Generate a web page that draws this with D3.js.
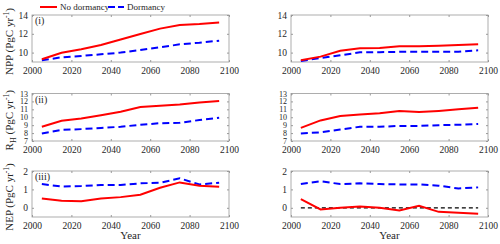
<!DOCTYPE html>
<html>
<head>
<meta charset="utf-8">
<script src="https://cdn.jsdelivr.net/npm/d3@7"></script>
<style>
body { margin:0; background:#fff; }
text { font-family: "Liberation Serif", "Times New Roman", serif; fill:#262626; }
</style>
</head>
<body>
<svg id="chart" width="500" height="244"></svg>
<script>
//DATA
var years = [2005, 2015, 2025, 2035, 2045, 2055, 2065, 2075, 2085, 2095];

var nppNoDormLeft  = [9.29, 9.99, 10.35, 10.8, 11.4, 11.98, 12.55, 12.94, 13.04, 13.2];
var nppDormLeft    = [9.18, 9.5, 9.64, 9.82, 10.0, 10.28, 10.56, 10.88, 11.05, 11.27];
var nppNoDormRight = [9.18, 9.57, 10.2, 10.45, 10.5, 10.67, 10.67, 10.74, 10.8, 10.9];
var nppDormRight   = [9.1, 9.43, 9.71, 10.03, 10.05, 10.08, 10.08, 10.08, 10.1, 10.24];

var rhNoDormLeft   = [8.8, 9.55, 9.85, 10.25, 10.7, 11.3, 11.45, 11.6, 11.85, 12.05];
var rhDormLeft     = [7.95, 8.4, 8.5, 8.65, 8.8, 9.05, 9.25, 9.3, 9.65, 9.95];
var rhNoDormRight  = [8.65, 9.6, 10.15, 10.35, 10.5, 10.8, 10.65, 10.8, 11.0, 11.2];
var rhDormRight    = [7.95, 8.1, 8.45, 8.8, 8.8, 8.9, 8.9, 9.0, 9.05, 9.15];

var nepNoDormLeft  = [0.51, 0.38, 0.36, 0.51, 0.58, 0.71, 1.09, 1.38, 1.2, 1.15];
var nepDormLeft    = [1.29, 1.16, 1.18, 1.24, 1.24, 1.33, 1.36, 1.6, 1.27, 1.36];
var nepNoDormRight = [0.47, -0.09, 0.0, 0.07, 0.0, -0.15, 0.11, -0.22, -0.27, -0.33];
var nepDormRight   = [1.29, 1.44, 1.29, 1.33, 1.29, 1.27, 1.27, 1.2, 1.05, 1.11];
var zeroLine       = [0, 0, 0, 0, 0, 0, 0, 0, 0, 0];

var xTicks = [2000, 2020, 2040, 2060, 2080, 2100];
var nppTicks = [10, 12, 14];
var rhTicks = [7, 8, 9, 10, 11, 12, 13];
var nepTicks = [0, 1, 2];
var legendNames = ['No dormancy', 'Dormancy'];

//LAYOUT
var cols = [[32, 229], [291, 488]];
var rows = [[15, 62], [93.5, 141], [171, 217]];
var rowDomains = [[9, 14], [7, 13], [-0.5, 2]];
var rowTicks = [nppTicks, rhTicks, nepTicks];
var rowTags = ['(i)', '(ii)', '(iii)'];
var series = [
	[[nppNoDormLeft, nppDormLeft], [nppNoDormRight, nppDormRight]],
	[[rhNoDormLeft, rhDormLeft], [rhNoDormRight, rhDormRight]],
	[[nepNoDormLeft, nepDormLeft], [nepNoDormRight, nepDormRight]]
];

var svg = d3.select('#chart');

function drawPanel(r, c)
{
	var x = d3.scaleLinear().domain([2000, 2100]).range(cols[c]);
	var y = d3.scaleLinear().domain(rowDomains[r]).range([rows[r][1], rows[r][0]]);
	var g = svg.append('g');

	g.append('rect')
		.attr('x', cols[c][0]).attr('y', rows[r][0])
		.attr('width', cols[c][1] - cols[c][0])
		.attr('height', rows[r][1] - rows[r][0])
		.attr('fill', 'none').attr('stroke', '#9a9a9a').attr('stroke-width', 0.8);

	// inward ticks, all four sides
	var xa = g.append('g').attr('transform', 'translate(0,' + rows[r][1] + ')')
		.call(d3.axisBottom(x).tickValues(xTicks).tickSizeInner(-2).tickSizeOuter(0).tickPadding(5).tickFormat(d3.format('d')));
	var xt = g.append('g').attr('transform', 'translate(0,' + rows[r][0] + ')')
		.call(d3.axisTop(x).tickValues(xTicks).tickSizeInner(-2).tickSizeOuter(0).tickFormat(''));
	var ya = g.append('g').attr('transform', 'translate(' + cols[c][0] + ',0)')
		.call(d3.axisLeft(y).tickValues(rowTicks[r]).tickSizeInner(-2).tickSizeOuter(0).tickPadding(4).tickFormat(d3.format('d')));
	var yr = g.append('g').attr('transform', 'translate(' + cols[c][1] + ',0)')
		.call(d3.axisRight(y).tickValues(rowTicks[r]).tickSizeInner(-2).tickSizeOuter(0).tickFormat(''));
	[xa, xt, ya, yr].forEach(function(a) {
		a.select('.domain').remove();
		a.selectAll('line').attr('stroke', '#9a9a9a');
		a.selectAll('text').style('font-family', '"Liberation Serif", serif')
			.style('font-size', r == 1 && a === ya ? '8px' : '9.5px').attr('fill', '#262626');
	});

	var line = d3.line().x(function(d, i) { return x(years[i]); }).y(function(d) { return y(d); });

	if (r == 2 && c == 1) {
		g.append('path').datum(zeroLine).attr('d', line)
			.attr('fill', 'none').attr('stroke', '#000').attr('stroke-width', 1.3).attr('stroke-dasharray', '4,3');
	}
	g.append('path').datum(series[r][c][1]).attr('d', line)
		.attr('fill', 'none').attr('stroke', '#0000ff').attr('stroke-width', 2).attr('stroke-dasharray', '7,4');
	g.append('path').datum(series[r][c][0]).attr('d', line)
		.attr('fill', 'none').attr('stroke', '#ff0000').attr('stroke-width', 2);

	if (c == 0) {
		g.append('text').attr('x', cols[c][0] + 3).attr('y', rows[r][0] + 9)
			.style('font-size', '10px').text(rowTags[r]);
	}
	if (r == 2) {
		g.append('text').attr('x', (cols[c][0] + cols[c][1]) / 2).attr('y', 239)
			.attr('text-anchor', 'middle').style('font-size', '11px').text('Year');
	}
}

function drawYLabel(r, name, sub)
{
	var cy = (rows[r][0] + rows[r][1]) / 2 + 3;
	var t = svg.append('text')
		.attr('transform', 'translate(13,' + cy + ') rotate(-90)')
		.attr('text-anchor', 'middle').style('font-size', '11px');
	t.append('tspan').text(name);
	if (sub) {
		t.append('tspan').attr('dy', 3).style('font-size', '8px').text(sub);
		t.append('tspan').attr('dy', -3).text(' (PgC yr');
	} else {
		t.append('tspan').text(' (PgC yr');
	}
	t.append('tspan').attr('dy', -4).style('font-size', '7.5px').text('-1');
	t.append('tspan').attr('dy', 4).text(')');
}

function drawLegend()
{
	var lg = svg.append('g');
	lg.append('line').attr('x1', 40).attr('x2', 57).attr('y1', 7).attr('y2', 7)
		.attr('stroke', '#ff0000').attr('stroke-width', 2);
	lg.append('text').attr('x', 60).attr('y', 10).style('font-size', '9px').text(legendNames[0]);
	lg.append('line').attr('x1', 108).attr('x2', 124).attr('y1', 7).attr('y2', 7)
		.attr('stroke', '#0000ff').attr('stroke-width', 2).attr('stroke-dasharray', '7,3');
	lg.append('text').attr('x', 127).attr('y', 10).style('font-size', '9px').text(legendNames[1]);
}

for (var r = 0; r < 3; r++) {
	drawPanel(r, 0);
	drawPanel(r, 1);
}
drawYLabel(0, 'NPP');
drawYLabel(1, 'R', 'H');
drawYLabel(2, 'NEP');
drawLegend();
</script>
</body>
</html>
